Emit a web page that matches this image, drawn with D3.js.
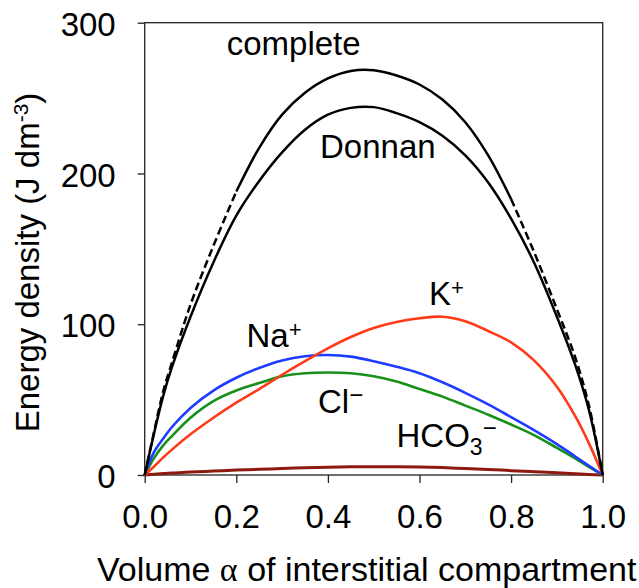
<!DOCTYPE html>
<html lang="en">
<head>
  <title>Energy density</title>
  <meta charset="utf-8">
  <script src="https://d3js.org/d3.v7.min.js"></script>
  <style>
    body { margin: 0; background: #fff; }
    svg text { font-family: "Liberation Sans", Arial, Helvetica, sans-serif; fill: #000; }
  </style>
</head>
<body>
<div class="chart"></div>

<script type="text/javascript">

// volume fraction alpha of interstitial compartment
var alpha    = [0, 0.02, 0.04, 0.06, 0.1, 0.15, 0.2, 0.25, 0.3, 0.35, 0.4, 0.45, 0.5, 0.55, 0.6, 0.65, 0.7, 0.75, 0.8, 0.85, 0.9, 0.94, 0.97, 1.0];
// energy densities (J dm-3)
var complete = [0, 28, 55, 75, 113, 152, 188, 217, 239, 253.5, 263, 268, 268.5, 265, 259, 249, 234, 212, 183, 148, 110, 78, 46, 0];
var donnan   = [0, 27, 52, 72, 105, 141, 172, 195, 214, 229, 239, 243.5, 244, 240, 234, 225, 212, 194, 170, 141, 105, 73, 43, 0];
var na       = [0, 15, 24, 32, 44.5, 56, 64.5, 71, 76, 78.8, 79.6, 78.5, 75.5, 71.8, 67.5, 61.5, 54.5, 46.8, 38.4, 29.8, 20.5, 12.3, 6.1, 0];
var cl       = [0, 11, 19.5, 26, 38, 49, 56, 61, 65.5, 67.5, 68, 67.5, 65.5, 62, 57, 52, 46, 40, 33.5, 26.5, 18, 11, 5.3, 0];
var k        = [0, 5.5, 11.5, 17, 27, 38, 48, 57, 66.5, 75.5, 84, 91.5, 97.5, 101.5, 104, 105, 102, 95.5, 88, 76, 58.5, 39, 21, 0];
var hco3     = [0, 0.5, 1, 1.3, 2, 2.6, 3.3, 3.8, 4.3, 4.8, 5.2, 5.4, 5.5, 5.5, 5.3, 4.9, 4.3, 3.7, 2.9, 2.2, 1.5, 0.9, 0.4, 0];

// complete model solid only in this range, dashed outside
var solidRange = [0.2, 0.8];

var xTicks = [0, 0.2, 0.4, 0.6, 0.8, 1.0];
var yTicks = [0, 100, 200, 300];

var width = 639, height = 588;
var margin = {top: 22.7, right: 36.3, bottom: 113, left: 144.7};
var w = width - margin.left - margin.right,
    h = height - margin.top - margin.bottom;

var svg = d3.select(".chart").append("svg")
    .attr("width", width)
    .attr("height", height);

var g = svg.append("g")
    .attr("transform", "translate(" + margin.left + "," + margin.top + ")");

var x = d3.scaleLinear().domain([0, 1]).range([0, w]);
var y = d3.scaleLinear().domain([0, 300]).range([h, 0]);

function rows(vals) {
  return alpha.map(function(a, i) { return {a: a, v: vals[i]}; });
}

var line = d3.line()
    .x(function(d) { return x(d.a); })
    .y(function(d) { return y(d.v); })
    .curve(d3.curveCatmullRom.alpha(0.5));

// axes
var xAxis = g.append("g")
    .attr("transform", "translate(0," + h + ")")
    .call(d3.axisBottom(x).tickValues(xTicks).tickFormat(d3.format(".1f"))
      .tickSize(8).tickSizeOuter(0).tickPadding(22));

var yAxis = g.append("g")
    .call(d3.axisLeft(y).tickValues(yTicks).tickFormat(d3.format("d"))
      .tickSize(7).tickSizeOuter(0).tickPadding(22));

[xAxis, yAxis].forEach(function(ax) {
  ax.select(".domain").remove();
  ax.selectAll("line").attr("stroke", "#222").attr("stroke-width", 1.3);
  ax.selectAll("text").style("font-size", "33px").attr("fill", "#000");
});
yAxis.selectAll("text").attr("dy", "0.38em");

g.append("rect")
    .attr("width", w)
    .attr("height", h)
    .attr("fill", "none")
    .attr("stroke", "#222")
    .attr("stroke-width", 1.3);

// curves
var series = [
  {vals: hco3, color: "#8c1a0f", sw: 3},
  {vals: cl,   color: "#17901a", sw: 2.6},
  {vals: na,   color: "#1d3cff", sw: 2.6},
  {vals: k,    color: "#ff3a18", sw: 2.6},
  {vals: donnan, color: "#000", sw: 2.5}
];

series.forEach(function(s) {
  g.append("path")
    .datum(rows(s.vals))
    .attr("fill", "none")
    .attr("stroke", s.color)
    .attr("stroke-width", s.sw)
    .attr("d", line);
});

g.append("path")
    .datum(rows(complete))
    .attr("fill", "none")
    .attr("stroke", "#000")
    .attr("stroke-width", 2.5)
    .attr("d", line.defined(function(d) { return d.a >= solidRange[0] && d.a <= solidRange[1]; }));

g.append("path")
    .datum(rows(complete))
    .attr("fill", "none")
    .attr("stroke", "#000")
    .attr("stroke-width", 2.5)
    .attr("stroke-dasharray", "8,4")
    .attr("d", line.defined(function(d) { return d.a <= solidRange[0] || d.a >= solidRange[1]; }));

// curve labels
function label(px, py, parts) {
  var t = svg.append("text")
    .attr("x", px)
    .attr("y", py)
    .style("font-size", "33px");
  parts.forEach(function(p) {
    t.append("tspan")
      .attr("dy", p.dy || 0)
      .style("font-size", (p.size || 33) + "px")
      .text(p.t);
  });
}

label(226.7, 55, [{t: "complete"}]);
label(320, 158, [{t: "Donnan"}]);
label(246.5, 346.5, [{t: "Na"}, {t: "+", size: 22, dy: -10}]);
label(429, 305, [{t: "K"}, {t: "+", size: 22, dy: -10}]);
label(318, 413, [{t: "Cl"}, {t: "\u2212", size: 24, dy: -10}]);
label(396.5, 446.5, [{t: "HCO"}, {t: "3", size: 23, dy: 8}, {t: "\u2212", size: 24, dy: -19}]);

// axis titles
var xt = svg.append("text")
    .attr("x", 97)
    .attr("y", 581)
    .style("font-size", "34px");
xt.append("tspan").text("Volume ");
xt.append("tspan").style("font-family", "'Liberation Serif', 'DejaVu Serif', serif").text("\u03b1");
xt.append("tspan").text(" of interstitial compartment");

var yt = svg.append("text")
    .attr("transform", "translate(39,262.5) rotate(-90)")
    .attr("text-anchor", "middle")
    .style("font-size", "33px");
yt.append("tspan").text("Energy density (J dm");
yt.append("tspan").attr("dy", -11).style("font-size", "21px").text("-3");
yt.append("tspan").attr("dy", 11).text(")");

</script>
</body>
</html>
